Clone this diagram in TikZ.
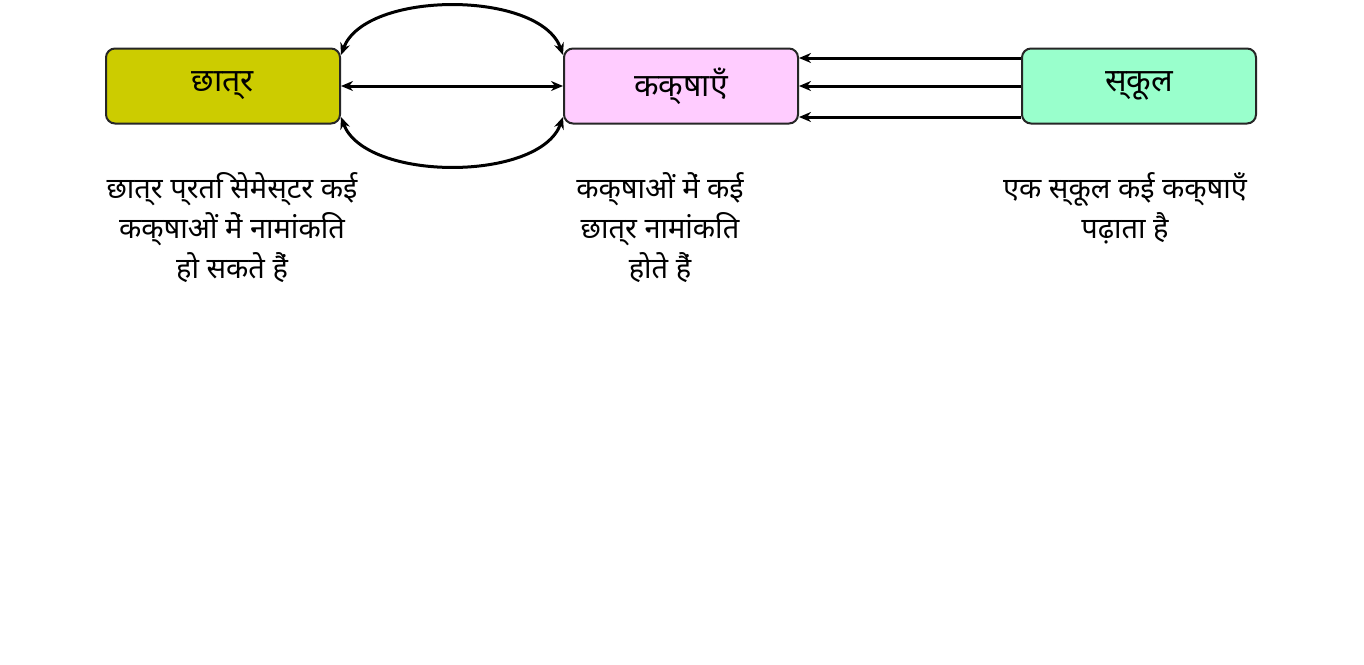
\documentclass[tikz,border=0pt]{standalone}
\usepackage{fontspec}
\setmainfont{Noto Sans}
\usetikzlibrary{arrows.meta}
\begin{document}
\begin{tikzpicture}[x=1pt,y=-1pt,
  box/.style={draw=black!85,line width=2pt,rounded corners=9pt,minimum width=234pt,minimum height=75pt,font=\bfseries\fontsize{32}{36}\selectfont},
  lab/.style={align=center,font=\fontsize{29}{40}\selectfont},
  arr/.style={line width=3pt,-{Stealth[length=12pt,width=10pt]}},
  darr/.style={line width=3pt,{Stealth[length=12pt,width=10pt]}-{Stealth[length=12pt,width=10pt]}}]
\useasboundingbox[fill=white] (0,0) rectangle (1364,664);
\node[box,fill={rgb,255:red,204;green,204;blue,0}] (s) at (223,86) {छात्र};
\node[box,fill={rgb,255:red,255;green,204;blue,255}] (k) at (681,86) {कक्षाएँ};
\node[box,fill={rgb,255:red,153;green,255;blue,204}] (u) at (1139,86) {स्कूल};
\draw[darr] (s.east) -- (k.west);
\draw[darr] ([yshift=31pt]s.east) .. controls (365,-10) and (540,-10) .. ([yshift=31pt]k.west);
\draw[darr] ([yshift=-31pt]s.east) .. controls (365,182) and (540,182) .. ([yshift=-31pt]k.west);
\draw[arr] ([yshift=28pt]u.west) -- ([yshift=28pt]k.east);
\draw[arr] (u.west) -- (k.east);
\draw[arr] ([yshift=-31pt]u.west) -- ([yshift=-31pt]k.east);
\node[lab] (l1) at (232,228) {छात्र प्रति सेमेस्टर कई\\कक्षाओं में नामांकित\\हो सकते हैं};
\node[lab] (l2) at (660,228) {कक्षाओं में कई\\छात्र नामांकित\\होते हैं};
\node[lab] (l3) at (1125,208) {एक स्कूल कई कक्षाएँ\\पढ़ाता है};
\end{tikzpicture}
\end{document}
